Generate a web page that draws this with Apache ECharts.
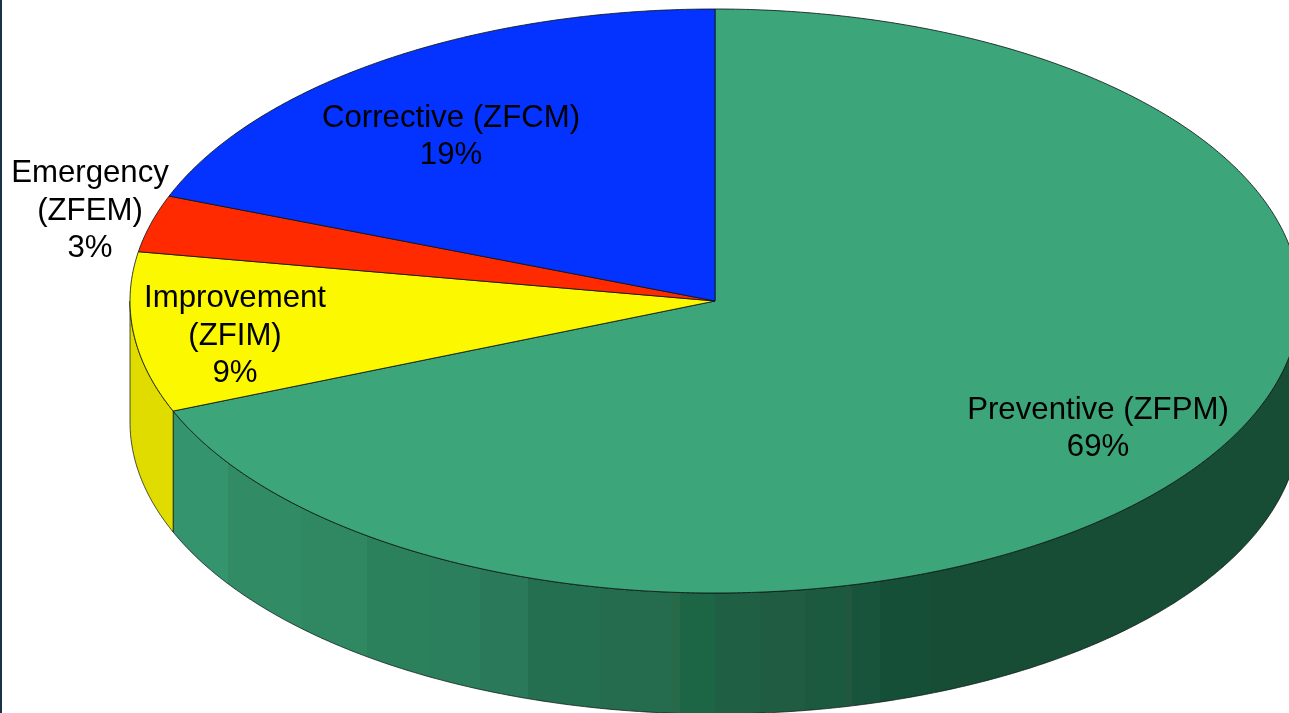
<!DOCTYPE html>
<html>
<head>
<meta charset="utf-8">
<style>html,body{margin:0;padding:0;background:#fff}#c{width:1289px;height:713px}</style>
<script src="https://cdn.jsdelivr.net/npm/echarts@6/dist/echarts.min.js"></script>
</head>
<body>
<div id="c"></div>
<script>
// Data, clockwise from 12 o'clock (slice sizes; labels show them rounded)
const categories = ['Preventive (ZFPM)', 'Improvement\n(ZFIM)', 'Emergency\n(ZFEM)', 'Corrective (ZFCM)'];
const shares = [68.85, 8.85, 3.15, 19.15];

// Styling
const topColors = ['#3da57a', '#fbf800', '#ff2a00', '#0433ff'];
const wallColors = ['#34936d', '#e0dc00', '#cc2200', '#0329cc'];
const labelAnchors = [[1098, 429], [235, 336], [90, 211], [451, 137]];
const greenBands = [
  [174, '#34946e'], [228, '#318c66'], [268, '#318b65'], [302, '#308862'], [367, '#2c815d'],
  [430, '#2c7f5c'], [480, '#29795a'], [528, '#246f4f'], [600, '#256b4e'], [672, '#286949'],
  [680, '#1c6646'], [715, '#1f6044'], [760, '#1f5c42'], [805, '#1c5a3f'], [845, '#21573d'],
  [852, '#18533b'], [880, '#164f37'], [930, '#174c35'], [1289, '#174c35']
];

const cx = 715, cy = 301, rx = 585, ry = 292, depth = 121;
const total = shares.reduce((a, b) => a + b, 0);
const edge = 'rgba(10,20,20,0.9)';

function pt(deg, dy) {
  const t = deg * Math.PI / 180;
  return [cx + rx * Math.sin(t), cy - ry * Math.cos(t) + (dy || 0)];
}
function arc(a, b) {
  const n = Math.max(2, Math.ceil(Math.abs(b - a) * 2)), out = [];
  for (let i = 0; i <= n; i++) out.push(pt(a + (b - a) * i / n));
  return out;
}
function greenFill() {
  const x0 = greenBands[0][0], x1 = greenBands[greenBands.length - 1][0], span = x1 - x0, stops = [];
  greenBands.forEach((b, i) => {
    const next = greenBands[i + 1];
    stops.push({ offset: (b[0] - x0) / span, color: b[1] });
    if (next) stops.push({ offset: Math.max(0, (next[0] - x0) / span - 0.0001), color: b[1] });
  });
  return new echarts.graphic.LinearGradient(x0, 0, x1, 0, stops, true);
}

function renderItem(params, api) {
  const i = params.dataIndex;
  let before = 0;
  for (let k = 0; k < i; k++) before += shares[k];
  const a = before / total * 360, b = (before + api.value(1)) / total * 360;
  const children = [];
  const wa = Math.max(a, 90), wb = Math.min(b, 270);
  if (wb > wa) {
    const top = arc(wa, wb);
    const bottom = top.map(p => [p[0], p[1] + depth]).reverse();
    children.push({
      type: 'polygon',
      shape: { points: top.concat(bottom) },
      style: { fill: i === 0 ? greenFill() : wallColors[i], stroke: edge, lineWidth: 0.8 }
    });
  }
  children.push({
    type: 'polygon',
    shape: { points: [[cx, cy]].concat(arc(a, b)) },
    style: { fill: topColors[i], stroke: edge, lineWidth: 0.9 },
    z2: 5
  });
  children.push({
    type: 'text',
    z2: 20,
    style: {
      text: categories[i] + '\n' + Math.round(api.value(1)) + '%',
      x: labelAnchors[i][0], y: labelAnchors[i][1],
      align: 'center', verticalAlign: 'middle',
      font: '31.2px "Liberation Sans", Arial, sans-serif',
      lineHeight: 37.5, fill: '#000'
    }
  });
  return { type: 'group', children };
}

const chart = echarts.init(document.getElementById('c'), null, { renderer: 'canvas' });
chart.setOption({
  animation: false,
  backgroundColor: '#ffffff',
  graphic: [{
    type: 'rect', left: 0, top: 0, silent: true,
    shape: { width: 2, height: 713 }, style: { fill: '#17344a' }
  }],
  series: [{
    type: 'custom',
    coordinateSystem: 'none',
    renderItem,
    data: categories.map((c, i) => [i, shares[i]]),
    silent: true
  }]
});
</script>
</body>
</html>
